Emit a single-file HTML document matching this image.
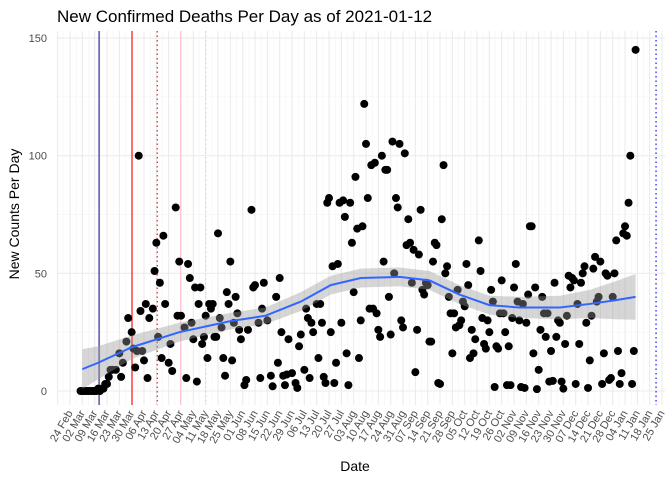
<!DOCTYPE html>
<html><head><meta charset="utf-8"><style>
body{margin:0;background:#fff}
svg{display:block;font-family:"Liberation Sans",sans-serif}
</style></head><body>
<svg id="chart" width="672" height="480" viewBox="0 0 672 480">
<text x="57" y="22" font-size="17" fill="#000">New Confirmed Deaths Per Day as of 2021-01-12</text>
<text x="355" y="471" font-size="14" text-anchor="middle" fill="#000">Date</text>
<text transform="translate(19,214) rotate(-90)" font-size="14" text-anchor="middle" fill="#000">New Counts Per Day</text>
<g id="grid"></g><g id="vlines"></g><g id="pts"></g><g id="band"></g><g id="axes"></g>
</svg>
<script>
// day offsets from 2020-02-24 and deaths per day
const days = [6,7,8,9,10,11,12,13,14,15,16,17,18,19,20,21,22,23,24,26,28,29,30,32,33,35,36,37,38,39,40,41,42,43,44,45,47,48,49,50,51,52,53,54,56,57,58,60,61,62,63,65,66,67,68,69,70,71,72,73,74,75,76,77,78,79,80,81,82,83,84,85,86,87,88,89,90,91,92,93,94,95,96,97,99,100,101,103,104,105,107,108,109,110,112,114,115,117,118,119,120,121,122,123,124,126,128,129,130,131,133,134,135,136,137,138,140,141,142,143,144,145,146,147,148,149,150,151,152,153,154,155,156,157,158,159,160,161,162,163,164,165,166,167,168,169,170,171,172,173,174,175,176,177,178,179,180,181,182,183,184,185,186,187,188,189,190,191,192,193,194,195,196,197,198,199,200,201,202,203,204,205,206,207,208,209,210,211,212,213,214,215,216,217,218,219,220,221,222,223,224,225,226,227,228,229,230,232,233,234,235,236,237,238,239,240,241,242,243,244,245,246,247,248,249,250,251,252,253,254,255,256,257,258,259,260,261,262,263,264,265,266,267,268,269,270,271,272,273,274,275,276,277,278,279,280,281,282,283,284,285,286,287,288,289,290,291,292,293,294,295,296,297,298,299,300,301,302,303,304,305,306,307,308,309,310,311,312,313,314,315,316,317,318,319,320,321];
const deaths = [0,0,0,0,0,0,0,0,0,0,1,0,1,1,3,3,6,9,9,9,16,6,12,21,31,25,18,10,17,100,34,17,13,37,5.5,31,35,51,63,23,46,14,66,37,12,20,8.5,78,32,55,32,27,5.5,54,48,29,22,44,4,37,44,20,23,32,14,37,35,37,23,23,67,31,27,14,6.5,42,37,55,13,29,40,33,26,22,2.5,4.7,26,77,44,45,29,5.5,35,46,30,6.5,2,40,12,48,25,6.5,2.5,7,22,7.6,3.4,1.3,19,24,9,35,31,5.5,29,25,37,14,37,29,6,3.4,80,82,25,53,3.4,12,54,80,29,81,74,16,2.5,80,63,42,91,69,14,30,70,122,105,82,35,96,35,97,33,26,23,100,55,94,94,40,24,106,50,82,78,105,30,27,101,62,73,63,46,60,8,26,58,77,43,41,46,45,21,21,55,63,62,3.4,3,73,96,50,53,40,33,16,33,27,43,28,30,38,36,54,45,14,26,16,22,64,51,31,20,18,30,25,43,38,1.7,19,18,33,47,33,25,2.5,19,2.5,31,44,54,38,30,1.7,37,1.3,29,41,70,70,16,44,0.8,9,26,40,33,23,33,4,17,4.3,46,23,30,29,4,1,20,32,49,44,48,47,3,37,20,46,50,53,29,1.3,13,32,52,57,38,40,55,3,16,50,49,4.7,5.5,40,50,64,17,3,7.6,67,70,66,80,100,3,17,145];
// fitted smoother
const smDays = [7,16,35,62,91,111,131,148,165,187,204,221,238,255,278,295,309,321];
const smVals = [9.3,12,18.6,25,29.7,32,38,45,48,48.5,47,41,36.5,35.5,35.5,37,38.5,40];
const smSE = [8.5,7,5,4,3.5,3.5,4,4,4,4,4,4,4,4.5,5,6,8,9.7];
const xTickLabels = ["24 Feb","02 Mar","09 Mar","16 Mar","23 Mar","30 Mar","06 Apr","13 Apr","20 Apr","27 Apr","04 May","11 May","18 May","25 May","01 Jun","08 Jun","15 Jun","22 Jun","29 Jun","06 Jul","13 Jul","20 Jul","27 Jul","03 Aug","10 Aug","17 Aug","24 Aug","31 Aug","07 Sep","14 Sep","21 Sep","28 Sep","05 Oct","12 Oct","19 Oct","26 Oct","02 Nov","09 Nov","16 Nov","23 Nov","30 Nov","07 Dec","14 Dec","21 Dec","28 Dec","04 Jan","11 Jan","18 Jan","25 Jan"];
const yTicks = [0,50,100,150];
const refLines = [{d:16.5,c:"#1a1a8c",dash:""},{d:35.2,c:"#ff0000",dash:""},{d:49.5,c:"#ff0000",dash:"1.5,3"},{d:62.8,c:"#ffc0cb",dash:""},{d:77,c:"#ffc0cb",dash:"1.5,3"},{d:332.6,c:"#0000ff",dash:"1.5,3"}];

const NS="http://www.w3.org/2000/svg";
const X0=57,X1=665,YT=31,YB=405;
const xs=d=>70+d*1.762;
const ys=v=>391-v*2.353;
function mk(tag,attrs,parent){const e=document.createElementNS(NS,tag);for(const k in attrs)e.setAttribute(k,attrs[k]);parent.appendChild(e);return e;}
const grid=document.getElementById('grid');
for(let v=0;v<=150;v+=25){
  const l=mk('line',{x1:X0,x2:X1,y1:ys(v),y2:ys(v),stroke:v%50?'#f3f3f3':'#ebebeb','stroke-width':v%50?0.6:1.1},grid);
  
  
}
for(let k=-1;k<=xTickLabels.length;k+=0.5){
  const x=xs(k*7); if(x<X0||x>X1)continue;
  const l=mk('line',{x1:x,x2:x,y1:YT,y2:YB,stroke:Number.isInteger(k)?'#ebebeb':'#f3f3f3','stroke-width':Number.isInteger(k)?1.1:0.6},grid);
  
  
}
const vl=document.getElementById('vlines');
refLines.forEach(r=>{
  const l=mk('line',{x1:xs(r.d),x2:xs(r.d),y1:YT,y2:YB,stroke:r.c,'stroke-width':1.1},vl);
  if(r.dash)l.setAttribute('stroke-dasharray',r.dash);
  
  
});
const pts=document.getElementById('pts');
days.forEach((d,i)=>{
  if(deaths[i]===undefined)return;
  const c=mk('circle',{cx:xs(d),cy:ys(deaths[i]),r:4,fill:'#000'},pts);
  
  
});
const band=document.getElementById('band');
let up=smDays.map((d,i)=>xs(d)+','+ys(smVals[i]+smSE[i]));
let lo=smDays.map((d,i)=>xs(d)+','+ys(Math.max(smVals[i]-smSE[i],-1))).reverse();
const bp=mk('polygon',{points:up.concat(lo).join(' '),fill:'#999999','fill-opacity':0.4},band);


let path='';smDays.forEach((d,i)=>{path+=(i?'L':'M')+xs(d)+','+ys(smVals[i]);});
const ln=mk('path',{d:path,fill:'none',stroke:'#3366ff','stroke-width':2},band);


const ax=document.getElementById('axes');
yTicks.forEach(v=>{
  const t=mk('text',{x:47,y:ys(v)+4,'font-size':11,'text-anchor':'end',fill:'#4d4d4d'},ax);
  t.textContent=v;
  
  
});
xTickLabels.forEach((s,k)=>{
  const x=xs(k*7)+3,y=413;
  const t=mk('text',{x:x,y:y,'font-size':11,'text-anchor':'end',fill:'#4d4d4d',transform:`rotate(-60 ${x} ${y})`},ax);
  t.textContent=s;
  
  
});
</script>
</body></html>
